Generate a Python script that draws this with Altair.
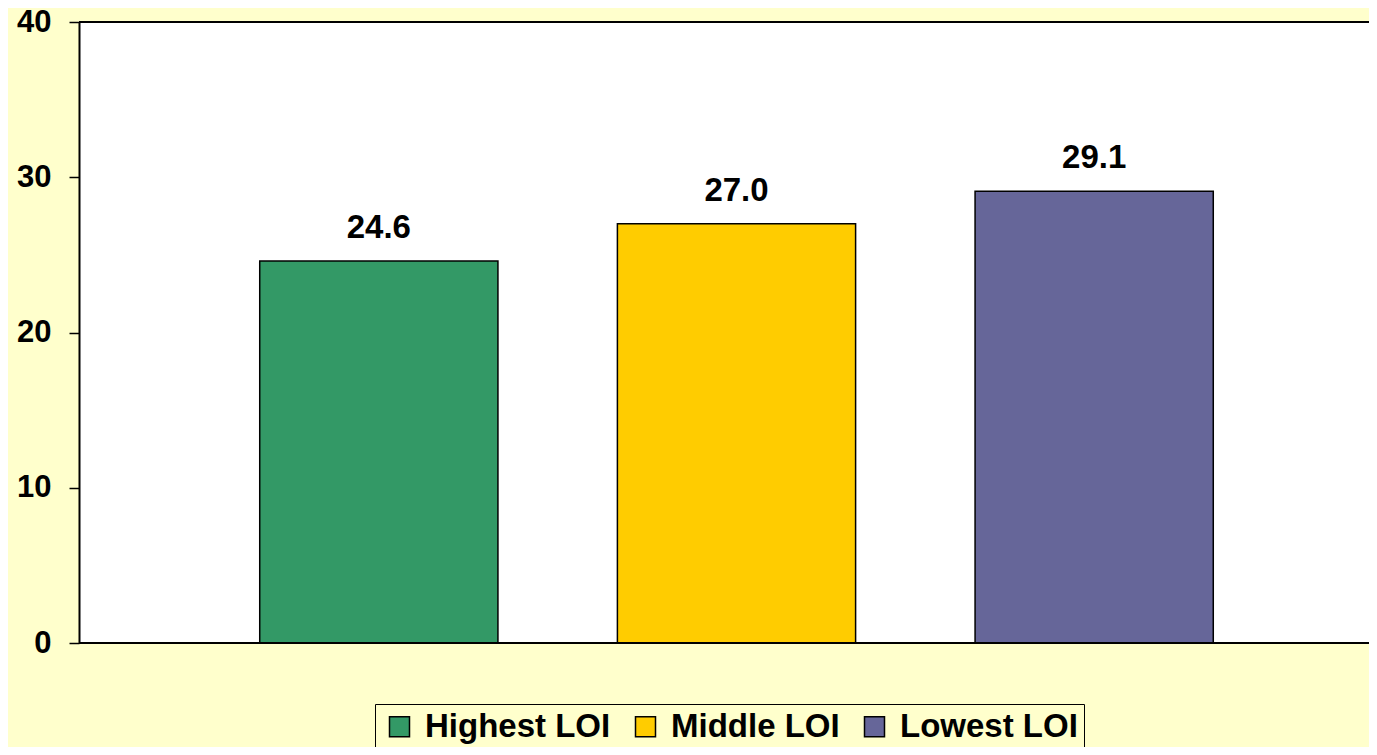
import altair as alt
import pandas as pd

categories = ["Highest LOI", "Middle LOI", "Lowest LOI"]
values = [24.6, 27.0, 29.1]
colors = ["#339966", "#FFCC00", "#666699"]
y_ticks = [0, 10, 20, 30, 40]
frame_lines = [0, 40]

df = pd.DataFrame({"group": categories, "value": values})
frame_df = pd.DataFrame({"v": frame_lines})

FONT = "Liberation Sans"
W, H = 1290, 621

x_scale = alt.Scale(domain=categories, range=[121, 1194], paddingInner=0.334, paddingOuter=0.167)
y_scale = alt.Scale(domain=[0, 40], nice=False)

base = alt.Chart(df)

bars = base.mark_bar(stroke="black", strokeWidth=1.5).encode(
    x=alt.X("group:N", scale=x_scale, axis=None, sort=categories),
    y=alt.Y(
        "value:Q",
        scale=y_scale,
        axis=alt.Axis(
            values=y_ticks,
            title=None,
            grid=False,
            domainColor="black",
            domainWidth=2,
            tickColor="black",
            tickWidth=1.5,
            tickSize=10,
            labelFont=FONT,
            labelFontSize=31,
            labelFontWeight="bold",
            labelColor="black",
            labelPadding=18,
        ),
    ),
    color=alt.Color(
        "group:N",
        scale=alt.Scale(domain=categories, range=colors),
        sort=categories,
        legend=alt.Legend(
            title=None,
            orient="none",
            legendX=296,
            legendY=682,
            direction="horizontal",
            symbolType="square",
            symbolSize=400,
            symbolStrokeColor="black",
            symbolStrokeWidth=1.5,
            symbolOpacity=1,
            symbolOffset=2,
            labelFont=FONT,
            labelFontSize=33,
            labelFontWeight="bold",
            labelColor="black",
            labelLimit=500,
            labelOffset=9,
            columnPadding=16,
            padding=6,
            fillColor="#FFFFCC",
            strokeColor="black",
        ),
    ),
)

labels = base.mark_text(
    font=FONT, fontSize=33, fontWeight="bold", color="black", baseline="alphabetic", dy=-23
).encode(
    x=alt.X("group:N", scale=x_scale, axis=None, sort=categories),
    y=alt.Y("value:Q", scale=y_scale),
    text=alt.Text("value:Q", format=".1f"),
)

frame = alt.Chart(frame_df).mark_rule(color="black", strokeWidth=2).encode(
    y=alt.Y("v:Q", scale=y_scale)
)

chart = (
    alt.layer(bars, labels, frame)
    .properties(
        width=W,
        height=H,
        background="#FFFFCC",
        autosize=alt.AutoSizeParams(type="none"),
        padding={"left": 71, "top": 14, "right": 0, "bottom": 104},
    )
    .configure_view(stroke=None, fill="white")
)

chart.save("out.html", embed_options={"renderer": "svg", "actions": False})
